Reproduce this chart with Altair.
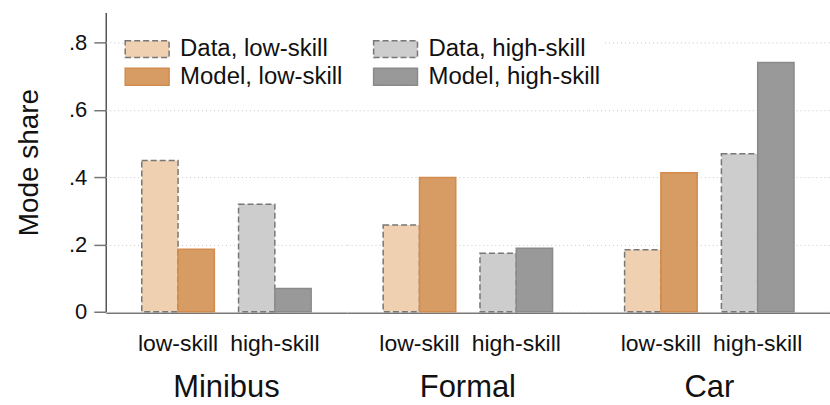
import altair as alt
import pandas as pd

# Mode shares by transport mode and skill group: observed data vs. model
modes = ["Minibus", "Formal", "Car"]
skills = ["low-skill", "high-skill"]
data_share = [0.45, 0.32, 0.258, 0.174, 0.184, 0.47]
model_share = [0.186, 0.069, 0.399, 0.189, 0.413, 0.741]

# legend fills column by column: data row on top, model row below
series = ["Data, low-skill", "Model, low-skill", "Data, high-skill", "Model, high-skill"]
fills = ["#EFD0B1", "#D79C64", "#CDCDCD", "#999999"]
strokes = ["#777777", "#D28B4D", "#777777", "#8A8A8A"]
dashes = [[6, 3], [1, 0], [6, 3], [1, 0]]

rows = []
i = 0
for m in modes:
    for s in skills:
        rows.append({"mode": m, "skill": s, "source": "Data",
                     "series": f"Data, {s}", "value": data_share[i]})
        rows.append({"mode": m, "skill": s, "source": "Model",
                     "series": f"Model, {s}", "value": model_share[i]})
        i += 1
df = pd.DataFrame(rows)

FONT = "Liberation Sans"
RECT = "M-1.517,-0.586H1.517V0.586H-1.517Z"

bars = alt.Chart(df).mark_bar(strokeWidth=1.5).encode(
    x=alt.X("skill:N", sort=skills, title=None,
            scale=alt.Scale(paddingInner=0.25, paddingOuter=0.372),
            axis=alt.Axis(labelAngle=0, ticks=False, tickSize=0, labelPadding=20,
                          labelFont=FONT, labelFontSize=23, labelColor="#111",
                          domainColor="#777", domainWidth=1.5, grid=False)),
    xOffset=alt.XOffset("source:N", sort=["Data", "Model"],
                        scale=alt.Scale(paddingInner=0, paddingOuter=0)),
    y=alt.Y("value:Q", title="Mode share",
            scale=alt.Scale(domain=[0, 0.89], nice=False),
            axis=alt.Axis(values=[0, 0.2, 0.4, 0.6, 0.8],
                          labelExpr="datum.value == 0 ? '0' : slice(format(datum.value, '.1f'), 1)",
                          labelFont=FONT, labelFontSize=22, labelColor="#111",
                          labelPadding=7, tickSize=12, tickColor="#777", tickWidth=1.5,
                          domainColor="#555", domainWidth=1.5,
                          titleFont=FONT, titleFontSize=28, titleFontWeight="normal",
                          titleColor="#111", titlePadding=25,
                          grid=True, gridColor="#C8C8C8", gridDash=[1, 3], gridWidth=1)),
    color=alt.Color("series:N", scale=alt.Scale(domain=series, range=fills),
                    legend=alt.Legend(title=None, orient="none", legendX=22, legendY=17,
                                      columns=2, symbolType=RECT, symbolSize=841,
                                      symbolStrokeWidth=1.5, symbolOpacity=1,
                                      labelFont=FONT, labelFontSize=24, labelColor="#111",
                                      labelLimit=300, labelOffset=17.5, columnPadding=27,
                                      rowPadding=0, fillColor="white", padding=4)),
    stroke=alt.Stroke("series:N", scale=alt.Scale(domain=series, range=strokes)),
    strokeDash=alt.StrokeDash("series:N", scale=alt.Scale(domain=series, range=dashes)),
).properties(width=242, height=300)

chart = bars.facet(
    column=alt.Column("mode:N", sort=modes, title=None,
                      header=alt.Header(labelOrient="bottom", labelFont=FONT,
                                        labelFontSize=31, labelColor="#111",
                                        labelPadding=17)),
    spacing=0,
).properties(
    padding={"left": 15, "top": 12, "right": 0, "bottom": 0}
).configure_view(stroke=None).configure_axis(labelFontWeight="normal")

chart.save("out.html", embed_options={"renderer": "svg", "actions": False})
